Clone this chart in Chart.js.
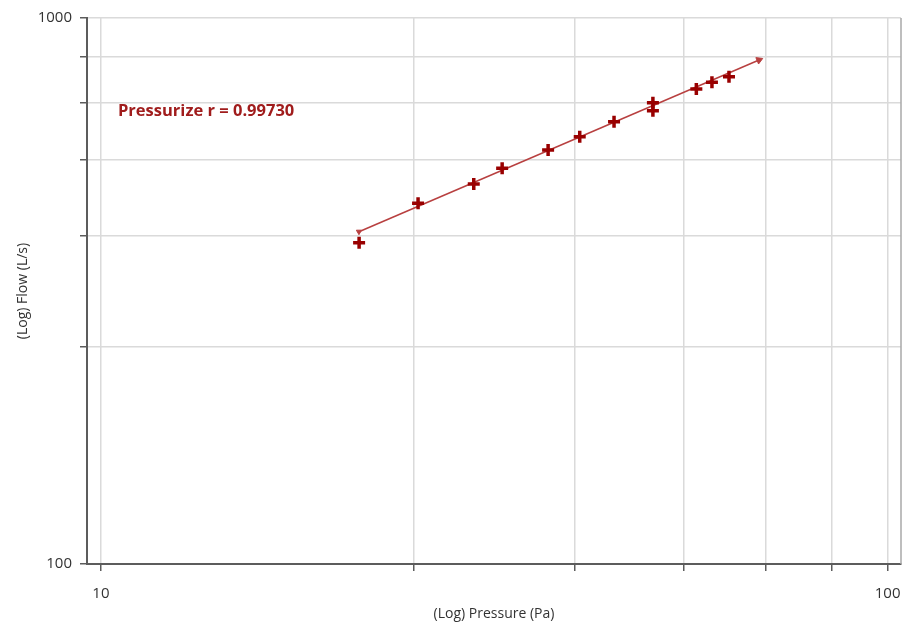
<!DOCTYPE html>
<html>
<head>
<meta charset="utf-8">
<script src="https://cdn.jsdelivr.net/npm/chart.js@4.4.1/dist/chart.umd.min.js"></script>
<style>
  html, body { margin: 0; padding: 0; background: #fff; overflow: hidden; }
  canvas { display: block; }
</style>
</head>
<body>
<canvas id="chart" width="904" height="629"></canvas>
<script>
// measured points (pressure Pa, flow L/s)
const pressure = [21.29, 25.30, 29.78, 32.36, 37.02, 40.61, 44.90, 50.31, 50.31, 57.13, 59.80, 62.86];
const flow = [387.7, 457.8, 496.6, 530.5, 573.2, 606.3, 645.8, 699.7, 676.5, 741.3, 762.5, 780.8];

// regression line end points
const fitPressure = [21.28, 68.64];
const fitFlow = [406.1, 837.6];

const xTicks = [10, 25, 40, 55, 70, 85, 100];
const xLabels = ['10', '', '', '', '', '', '100'];
const yTicks = [100, 250, 400, 550, 700, 850, 1000];
const yLabels = ['100', '', '', '', '', '', '1000'];

const fitText = 'Pressurize r = 0.99730';

const MARK = '#990000';
const LINE = '#b84040';
const GRID = '#dadada';
const AXIS = '#5c5c5c';
const TXT = '#333333';

const FONT = '"Open Sans", "Noto Sans", sans-serif';

const frame = {
    id: 'frame',
    afterDraw(chart) {
        const { ctx, chartArea: a } = chart;
        ctx.save();
        // right border
        ctx.strokeStyle = '#a9a9a9';
        ctx.lineWidth = 1.5;
        ctx.beginPath();
        ctx.moveTo(a.right, a.top);
        ctx.lineTo(a.right, a.bottom);
        ctx.stroke();
        // r value label
        ctx.fillStyle = '#a01c1c';
        ctx.font = 'bold 16.5px ' + FONT;
        ctx.textBaseline = 'middle';
        ctx.fillText(fitText, a.left + 31, a.top + 93);
        ctx.restore();
    }
};

const pts = pressure.map((p, i) => ({ x: p, y: flow[i] }));
const fit = fitPressure.map((p, i) => ({ x: p, y: fitFlow[i] }));

new Chart(document.getElementById('chart'), {
    type: 'scatter',
    data: {
        datasets: [{
            label: 'fit',
            data: fit,
            showLine: true,
            borderColor: LINE,
            backgroundColor: LINE,
            borderWidth: 1.5,
            pointStyle: 'triangle',
            rotation: [180, 67],
            pointRadius: [3, 4],
            pointBorderWidth: 1,
            order: 2
        }, {
            label: 'Pressurize',
            data: pts,
            pointStyle: 'cross',
            pointRadius: 6,
            pointBorderWidth: 3.5,
            borderColor: MARK,
            backgroundColor: MARK,
            order: 1
        }]
    },
    options: {
        responsive: false,
        animation: false,
        layout: { autoPadding: false, padding: { top: 18, right: 3, left: 0, bottom: 0 } },
        plugins: {
            legend: { display: false },
            tooltip: { enabled: false }
        },
        scales: {
            x: {
                type: 'logarithmic',
                min: 9.6,
                max: 104,
                afterBuildTicks: (s) => { s.ticks = xTicks.map(v => ({ value: v })); },
                afterFit: (s) => { s.height = 65; s.paddingLeft = 0; s.paddingRight = 0; },
                ticks: {
                    autoSkip: false,
                    maxRotation: 0,
                    padding: 14,
                    color: TXT,
                    font: { family: FONT, size: 15 },
                    callback: (v, i) => xLabels[i]
                },
                grid: { color: GRID, lineWidth: 1.5, tickLength: 7, tickColor: AXIS, tickWidth: 1.5 },
                border: { color: AXIS, width: 2 },
                title: {
                    display: true,
                    text: '(Log) Pressure (Pa)',
                    color: TXT,
                    font: { family: FONT, size: 14 },
                    padding: { bottom: 7 }
                }
            },
            y: {
                type: 'logarithmic',
                min: 100,
                max: 1000,
                afterBuildTicks: (s) => { s.ticks = yTicks.map(v => ({ value: v })); },
                afterFit: (s) => { s.width = 87; },
                ticks: {
                    autoSkip: false,
                    padding: 8,
                    color: TXT,
                    font: { family: FONT, size: 15 },
                    callback: (v, i) => yLabels[i]
                },
                grid: { color: GRID, lineWidth: 1.5, tickLength: 7, tickColor: AXIS, tickWidth: 1.5 },
                border: { color: AXIS, width: 2 },
                title: {
                    display: true,
                    text: '(Log) Flow (L/s)',
                    color: TXT,
                    font: { family: FONT, size: 14 },
                    padding: { top: 15 }
                }
            }
        }
    },
    plugins: [frame]
});
</script>
</body>
</html>
